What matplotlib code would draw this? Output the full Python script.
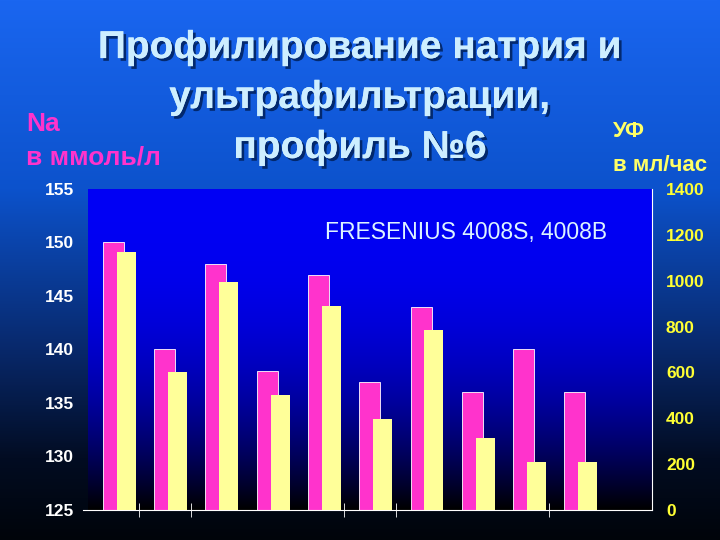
import numpy as np
import matplotlib.pyplot as plt
from matplotlib.colors import LinearSegmentedColormap
import matplotlib.patheffects as pe

plt.rcParams['font.family'] = ['Liberation Sans', 'DejaVu Sans']

# data: sodium profile (mmol/l) and ultrafiltration profile (ml/h), 10 steps
na_values = [150, 140, 148, 138, 147, 137, 144, 136, 140, 136]
uf_values = [1125, 600, 995, 500, 890, 395, 785, 315, 210, 210]
n_slots = 11  # last slot on the axis stays empty
na_ticks = [125, 130, 135, 140, 145, 150, 155]
uf_ticks = [0, 200, 400, 600, 800, 1000, 1200, 1400]

title_lines = ["Профилирование натрия и", "ультрафильтрации,", "профиль №6"]

fig = plt.figure(figsize=(7.2, 5.4), dpi=100)

# figure background: blue to black gradient
bg = fig.add_axes([0, 0, 1, 1], zorder=-10)
bg_cmap = LinearSegmentedColormap.from_list(
    "bg", [(0.0, "#1a66f0"), (0.35, "#0c52cc"), (0.65, "#08286a"), (0.85, "#020c22"), (1.0, "#00040a")])
bg.imshow(np.linspace(0, 1, 256).reshape(-1, 1), cmap=bg_cmap, aspect="auto", extent=[0, 1, 0, 1])
bg.axis("off")

ax = fig.add_axes([0.1222, 0.0556, 0.7834, 0.5944])
ax.set_xlim(-0.5, n_slots - 0.5)
ax.set_ylim(na_ticks[0], na_ticks[-1])

# plot area gradient
t = np.linspace(0, 1, 256)
blue = 0.96 * (1 - t ** 2.5)
grad = np.zeros((256, 1, 3))
grad[:, 0, 2] = blue
ax.imshow(grad, aspect="auto", extent=[-0.5, n_slots - 0.5, na_ticks[0], na_ticks[-1]], zorder=0)

x = np.arange(len(na_values))
ax.bar(x - 0.005, np.array(na_values) - na_ticks[0], bottom=na_ticks[0], width=0.41,
       color="#ff33cc", edgecolor="white", linewidth=0.6, zorder=2)

ax2 = ax.twinx()
ax2.set_ylim(uf_ticks[0], uf_ticks[-1])
ax2.bar(x + 0.245, uf_values, width=0.37, color="#ffff99", linewidth=0, zorder=2)

for s in ["left", "top", "right"]:
    ax.spines[s].set_visible(False)
ax.spines["bottom"].set_color("white")
ax.spines["bottom"].set_bounds(-0.6, n_slots - 0.5)
for s in ["left", "top", "bottom"]:
    ax2.spines[s].set_visible(False)
ax2.spines["right"].set_color("white")

ax.set_yticks(na_ticks)
ax.tick_params(axis="y", length=0, pad=10, labelcolor="white", labelsize=12.5)
ax.set_yticks([150], minor=True)
ax.tick_params(axis="y", which="minor", length=10, direction="inout", color="white")
for lab in ax.get_yticklabels():
    lab.set_fontweight("bold")

ax.set_xticks([])
ax.set_xticks([x[i] + 0.5 for i in [0, 1, 4, 5, 8]], minor=True)
ax.tick_params(axis="x", which="minor", length=10, direction="inout", color="white")

ax2.set_yticks(uf_ticks)
ax2.tick_params(axis="y", length=0, pad=10, labelcolor="#ffff33", labelsize=12.5)
ax2.set_yticks(uf_ticks[:6], minor=True)
ax2.tick_params(axis="y", which="minor", length=9, direction="inout", color="white")
for lab in ax2.get_yticklabels():
    lab.set_fontweight("bold")

ax.text(0.67, 0.866, "FRESENIUS 4008S, 4008B", transform=ax.transAxes, ha="center", va="center",
        fontsize=16.5, color="#ddf4ff", zorder=5)

shadow = [pe.withSimplePatchShadow(offset=(2, -2), shadow_rgbFace="#00205a", alpha=0.85), pe.Normal()]
for i, line in enumerate(title_lines):
    fig.text(0.5, 0.911 - i * 0.0925, line, ha="center", va="center", fontsize=28,
             fontweight="bold", color="#cdeeff", path_effects=shadow)

fig.text(0.036, 0.77, "Na", fontsize=19, fontweight="bold", color="#ff33cc", va="center")
fig.text(0.036, 0.708, "в ммоль/л", fontsize=19, fontweight="bold", color="#ff33cc", va="center")
fig.text(0.851, 0.757, "УФ", fontsize=16, fontweight="bold", color="#ffff66", va="center")
fig.text(0.851, 0.694, "в мл/час", fontsize=16, fontweight="bold", color="#ffff66", va="center")

fig.savefig("out.png", dpi=100)
